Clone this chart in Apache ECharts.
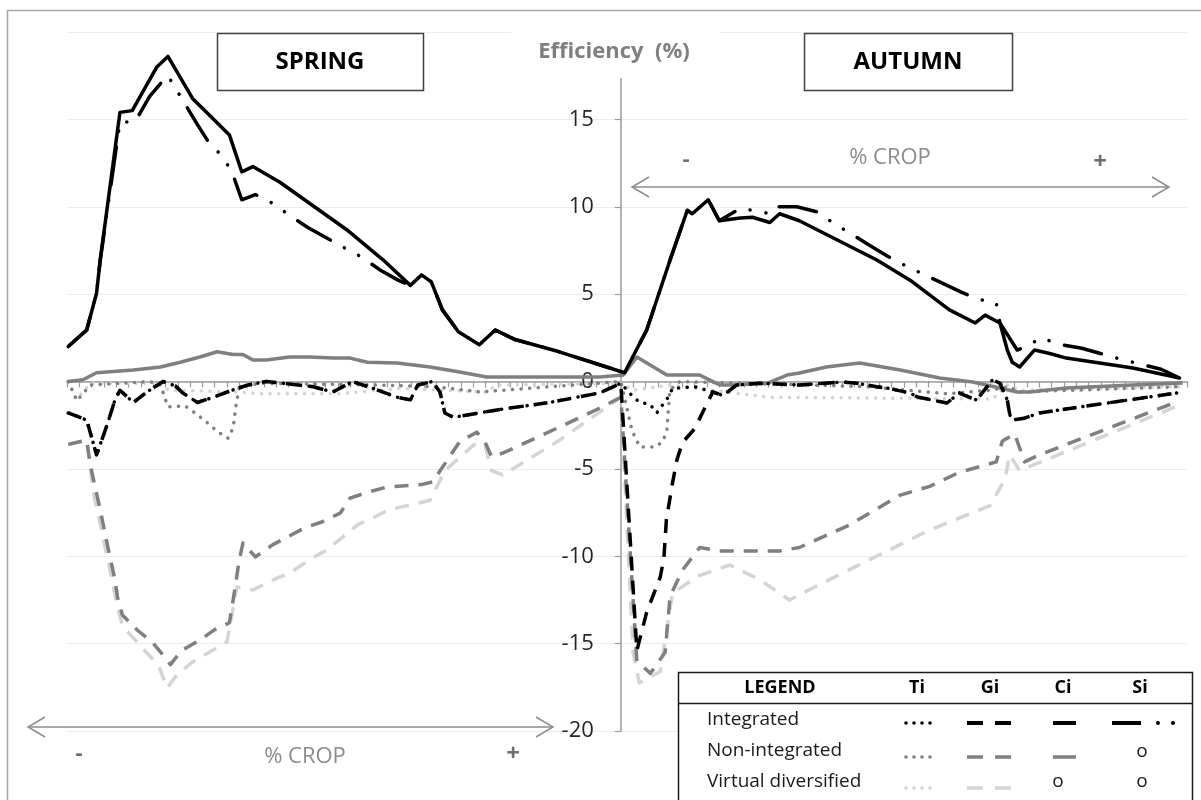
<!DOCTYPE html>
<html><head><meta charset="utf-8">
<script src="https://cdn.jsdelivr.net/npm/echarts@6/dist/echarts.min.js"></script>
<style>html,body{margin:0;padding:0;background:#fff}#c{width:1201px;height:800px}</style>
</head><body><div id="c"></div>
<script>
// x: position along the % CROP scale (negative = SPRING panel, positive = AUTUMN panel)
// y: Efficiency (%)
const yTickValues = [-20, -15, -10, -5, 0, 5, 10, 15];

const ciIntegrated = [[-44.9,2.0],[-43.4,2.95],[-42.6,5.05],[-42.3,6.95],[-40.7,15.4],[-39.7,15.5],[-37.7,18.0],[-36.8,18.6],[-34.8,16.2],[-31.8,14.1],[-30.8,12.0],[-29.9,12.3],[-27.7,11.4],[-25.5,10.3],[-22.3,8.7],[-19.3,6.95],[-17.1,5.5],[-16.2,6.1],[-15.4,5.7],[-14.5,4.1],[-13.2,2.85],[-11.5,2.1],[-10.2,2.95],[-8.6,2.4],[-5.0,1.7],[0.3,0.5],[2.1,2.95],[4.0,6.95],[5.4,9.8],[5.8,9.6],[7.1,10.4],[8.0,9.2],[9.7,9.35],[10.7,9.4],[12.1,9.1],[12.9,9.6],[14.5,9.2],[20.8,6.95],[23.5,5.8],[26.7,4.1],[28.8,3.35],[29.6,3.8],[30.8,3.35],[31.4,1.8],[31.8,1.1],[32.4,0.83],[33.6,1.8],[34.85,1.6],[36.2,1.34],[41.6,0.77],[45.4,0.2]];

const siIntegrated = [[-44.9,2.0],[-43.4,2.95],[-42.6,5.05],[-42.3,6.95],[-40.7,14.85],[-39.6,14.85],[-39.2,15.2],[-38.3,16.3],[-37.1,17.3],[-36.8,17.5],[-36.2,16.8],[-34.4,14.7],[-33.5,13.7],[-32.25,12.8],[-31.5,11.8],[-30.8,10.4],[-29.7,10.7],[-28.3,10.2],[-26.7,9.4],[-25.4,8.8],[-22.6,7.7],[-21.0,7.1],[-19.6,6.4],[-18.1,5.8],[-17.1,5.5],[-16.2,6.1],[-15.4,5.7],[-14.5,4.1],[-13.2,2.85],[-11.5,2.1],[-10.2,2.95],[-8.6,2.4],[-5.0,1.7],[0.3,0.5],[2.1,2.95],[4.0,6.95],[5.4,9.8],[5.8,9.6],[7.1,10.4],[8.0,9.2],[9.7,9.9],[11.5,9.7],[12.1,9.6],[12.7,10.0],[14.3,10.0],[16.0,9.7],[17.2,9.1],[20.2,7.8],[21.6,7.2],[23.2,6.6],[24.7,6.1],[27.7,5.1],[29.1,4.7],[30.5,4.5],[30.8,3.35],[32.2,1.8],[33.0,2.0],[34.1,2.5],[35.8,2.1],[37.45,1.9],[40.5,1.3],[42.2,1.0],[43.9,0.7],[45.4,0.2]];

const giIntegrated = [[-44.9,-1.8],[-43.4,-2.2],[-42.6,-4.2],[-41.75,-2.5],[-41.1,-1.05],[-40.7,-0.5],[-39.6,-1.2],[-38.5,-0.6],[-37.2,0],[-36.2,-0.25],[-35.6,-0.65],[-34.4,-1.2],[-33.1,-0.9],[-31.6,-0.5],[-30.3,-0.2],[-28.8,0],[-27.5,-0.1],[-25.0,-0.3],[-23.4,-0.6],[-21.8,0],[-20.1,-0.4],[-18.2,-0.9],[-17.1,-1.05],[-16.5,-0.2],[-15.3,0],[-14.7,-0.6],[-14.3,-1.8],[-13.6,-2.05],[-9.8,-1.6],[-5.8,-1.2],[-1.7,-0.65],[0,-0.1],[1.3,-15.4],[2.1,-13.2],[3.2,-11.2],[3.5,-10.1],[3.7,-7.9],[4.2,-5.8],[4.55,-4.5],[5.0,-3.5],[6.0,-2.7],[6.66,-1.75],[7.47,-0.6],[8.3,-0.8],[9.4,-0.2],[11.3,-0.1],[14.5,-0.2],[18.0,-0.03],[19.2,-0.1],[20.8,-0.3],[21.6,-0.37],[23.5,-0.66],[24.1,-0.89],[26.5,-1.23],[27.5,-0.66],[28.9,-1.06],[30.2,0.1],[30.8,-0.1],[31.4,-1.06],[31.6,-1.9],[31.8,-2.2],[32.8,-2.1],[34.0,-1.8],[45.2,-0.65]];

const tiIntegrated = [[-44.9,-1.8],[-43.4,-2.2],[-42.6,-4.2],[-41.75,-2.5],[-41.1,-1.05],[-40.7,-0.5],[-39.6,-1.2],[-38.5,-0.6],[-37.2,0],[-36.2,-0.25],[-35.6,-0.65],[-34.4,-1.2],[-33.1,-0.9],[-31.6,-0.5],[-30.3,-0.2],[-28.8,0],[-27.5,-0.1],[-25.0,-0.3],[-23.4,-0.6],[-21.8,0],[-20.1,-0.4],[-18.2,-0.9],[-17.1,-1.05],[-16.5,-0.2],[-15.3,0],[-14.7,-0.6],[-14.3,-1.8],[-13.6,-2.05],[-9.8,-1.6],[-5.8,-1.2],[-1.7,-0.65],[0,-0.1],[0.9,-0.8],[1.54,-1.2],[2.36,-1.3],[2.92,-1.8],[3.8,-0.95],[4.2,-0.4],[6.0,-0.3],[7.47,-0.6],[8.3,-0.8],[9.4,-0.2],[11.3,-0.1],[14.5,-0.2],[18.0,-0.03],[19.2,-0.1],[20.8,-0.3],[21.6,-0.37],[23.5,-0.66],[24.1,-0.89],[26.5,-1.23],[27.5,-0.66],[28.9,-1.06],[30.2,0.1],[30.8,-0.1],[31.4,-1.06],[31.6,-1.9],[31.8,-2.2],[32.8,-2.1],[34.0,-1.8],[45.2,-0.65]];

const ciNonIntegrated = [[-44.9,0],[-43.7,0.1],[-42.6,0.5],[-39.6,0.66],[-37.4,0.83],[-35.8,1.1],[-34.2,1.4],[-32.8,1.7],[-31.5,1.55],[-30.7,1.55],[-29.9,1.23],[-28.8,1.23],[-26.9,1.4],[-25.3,1.4],[-23.4,1.34],[-22.0,1.34],[-20.6,1.1],[-18.2,1.06],[-15.5,0.83],[-13.1,0.54],[-10.9,0.26],[-1.7,0.26],[0.2,0.37],[1.3,1.4],[3.74,0.37],[6.4,0.37],[7.2,0.09],[8.04,-0.2],[9.1,-0.2],[11.9,-0.1],[13.5,0.37],[14.5,0.49],[16.7,0.83],[19.4,1.06],[22.7,0.66],[25.9,0.2],[28.6,-0.03],[30.8,-0.37],[32.2,-0.6],[33.2,-0.6],[36.2,-0.37],[41.6,-0.2],[45.65,-0.09]];

const giNonIntegrated = [[-44.9,-3.6],[-43.4,-3.35],[-43.1,-4.8],[-42.3,-7.35],[-41.75,-9.24],[-41.1,-11.36],[-40.9,-12.33],[-40.5,-13.36],[-39.3,-14.22],[-38.1,-14.9],[-37.2,-15.65],[-36.6,-16.2],[-35.7,-15.4],[-34.2,-14.8],[-33.0,-14.2],[-31.8,-13.8],[-31.5,-12.5],[-31.0,-10.2],[-30.7,-9.24],[-29.7,-10.04],[-28.3,-9.35],[-27.1,-8.9],[-25.7,-8.38],[-24.3,-8.04],[-22.8,-7.53],[-22.0,-6.67],[-20.4,-6.3],[-19.0,-6.04],[-16.2,-5.9],[-15.3,-5.75],[-13.1,-3.45],[-11.7,-2.9],[-11.05,-3.45],[-10.5,-4.3],[-9.6,-4.1],[-4.96,-2.6],[-1.95,-1.6],[0,-0.9],[1.3,-16.0],[2.4,-16.7],[3.6,-15.5],[4.0,-12.3],[5.0,-10.8],[6.4,-9.5],[8.0,-9.7],[12.9,-9.7],[14.5,-9.5],[18.6,-8.2],[22.7,-6.5],[25.1,-6.0],[27.5,-5.2],[30.5,-4.6],[31.0,-3.4],[32.0,-3.0],[32.8,-4.6],[34.0,-4.2],[45.4,-1.1]];

const tiNonIntegrated = [[-44.9,0],[-44.2,-1.1],[-43.1,-0.2],[-38.3,0],[-37.4,-0.2],[-36.8,-1.45],[-35.4,-1.4],[-34.7,-1.75],[-33.95,-2.15],[-32.7,-2.9],[-31.9,-3.25],[-31.5,-2.65],[-31.3,-1.5],[-31.0,-0.35],[-29.3,-0.1],[-20,-0.2],[-15,-0.3],[-11.5,-0.6],[0,0],[0.9,-2.8],[1.54,-3.75],[2.76,-3.75],[3.4,-3.45],[3.74,-2.8],[3.8,-2.2],[3.98,-0.5],[4.8,0],[10,-0.1],[20,-0.3],[26.5,-0.7],[30,-0.5],[31.5,-0.3],[32.4,-0.6],[45.4,-0.3]];

const giVirtual = [[-44.9,-3.6],[-43.4,-3.35],[-42.85,-6.38],[-41.5,-10.8],[-40.9,-12.9],[-40.45,-14.05],[-39.7,-14.6],[-38.5,-15.54],[-37.6,-16.2],[-36.85,-17.54],[-36.1,-16.8],[-34.8,-16.05],[-33.55,-15.54],[-32.0,-14.9],[-31.8,-14.1],[-31.2,-11.76],[-29.9,-11.93],[-27.9,-11.24],[-26.9,-10.96],[-25.3,-10.2],[-23.9,-9.64],[-22.6,-8.9],[-21.4,-8.2],[-20.0,-7.75],[-18.9,-7.35],[-15.5,-6.8],[-14.3,-5.1],[-11.9,-3.6],[-11.05,-3.6],[-10.5,-5.1],[-9.6,-5.35],[-4.96,-3.35],[0,-0.9],[1.0,-15.5],[1.5,-17.25],[3.2,-16.6],[3.8,-13.9],[4.2,-12.1],[6.4,-11.1],[8.85,-10.5],[11.3,-11.35],[13.7,-12.5],[16.2,-11.6],[20.2,-10.2],[25.1,-8.5],[30.0,-7.1],[31.2,-5.6],[31.6,-4.2],[32.4,-5.1],[45.4,-1.35]];

const tiVirtual = [[-44.9,0],[-44.2,-1.0],[-43.1,-0.1],[-37.2,-0.1],[-36.8,-0.5],[-31.0,-0.6],[-29.3,-0.7],[-22.8,-0.7],[-18,-0.4],[-11,-0.6],[-10,-0.2],[0,-0.1],[1.0,-0.5],[4,-0.2],[12,-0.9],[30.2,-1.0],[31.4,-0.2],[32.4,-0.5],[45.4,-0.3]];

const FONT = "'Open Sans', 'Noto Sans', sans-serif";
const BLACK = '#000000', GRAY = '#7f7f7f', LIGHT = '#d4d4d4';
const DOT = [0.1, 8.5], DASH = [14, 10], DASHDOT = [38, 16, 0.1, 16, 0.1, 16];

function mk(name, data, color, type, cap, z) {
  return { name, type: 'line', data, symbol: 'none', showSymbol: false, silent: true,
    lineStyle: { color, width: 3.5, type, cap: cap || 'butt', join: 'round' }, z };
}

const chart = echarts.init(document.getElementById('c'), null, { renderer: 'canvas' });

const T = (text, x, y, size, color, weight, align) => ({ type: 'text', x, y, z: 101,
  style: { text, font: (weight || 'normal') + ' ' + size + 'px ' + FONT, fill: color, textAlign: align || 'center', textVerticalAlign: 'middle' } });
const L = (x1, y1, x2, y2, color, w, dash, cap) => ({ type: 'line', z: 101,
  shape: { x1, y1, x2, y2 }, style: { stroke: color, lineWidth: w, lineDash: dash || null, lineCap: cap || 'butt' } });
const C = (cx, cy, r, color) => ({ type: 'circle', z: 101, shape: { cx, cy, r }, style: { fill: color } });

const legendY = [723, 757, 788];
const elements = [
  { type: 'rect', z: -1, shape: { x: 7.5, y: 10.5, width: 1210, height: 800 }, style: { fill: 'none', stroke: '#a6a6a6', lineWidth: 1.5 } },
  { type: 'rect', z: 100, shape: { x: 511, y: 20, width: 209, height: 58 }, style: { fill: '#ffffff' } },
  T('Efficiency  (%)', 614, 52, 22, '#7f7f7f', 'bold'),
  { type: 'rect', z: 100, shape: { x: 217.5, y: 33.5, width: 206, height: 57 }, style: { fill: '#fff', stroke: '#404040', lineWidth: 1.5 } },
  T('SPRING', 320, 62, 24, '#000', 'bold'),
  { type: 'rect', z: 100, shape: { x: 804.5, y: 33.5, width: 208, height: 57 }, style: { fill: '#fff', stroke: '#404040', lineWidth: 1.5 } },
  T('AUTUMN', 908, 62, 24, '#000', 'bold'),
  // top arrow (autumn)
  L(632, 187, 1169, 187, '#8c8c8c', 1.5),
  { type: 'polyline', z: 101, shape: { points: [[649, 177], [632, 187], [649, 197]] }, style: { stroke: '#8c8c8c', lineWidth: 1.5, fill: 'none' } },
  { type: 'polyline', z: 101, shape: { points: [[1152, 177], [1169, 187], [1152, 197]] }, style: { stroke: '#8c8c8c', lineWidth: 1.5, fill: 'none' } },
  T('-', 686, 160, 22, '#6e6e6e', 'bold'),
  T('% CROP', 890, 158, 22, '#8c8c8c'),
  T('+', 1100, 162, 24, '#6e6e6e', 'bold'),
  // bottom arrow (spring)
  L(28, 727, 553, 727, '#8c8c8c', 1.5),
  { type: 'polyline', z: 101, shape: { points: [[45, 717], [28, 727], [45, 737]] }, style: { stroke: '#8c8c8c', lineWidth: 1.5, fill: 'none' } },
  { type: 'polyline', z: 101, shape: { points: [[536, 717], [553, 727], [536, 737]] }, style: { stroke: '#8c8c8c', lineWidth: 1.5, fill: 'none' } },
  T('-', 79, 754, 22, '#6e6e6e', 'bold'),
  T('% CROP', 305, 757, 22, '#8c8c8c'),
  T('+', 513, 754, 24, '#6e6e6e', 'bold'),
  // legend table
  { type: 'rect', z: 100, shape: { x: 678.5, y: 672.5, width: 514, height: 135 }, style: { fill: '#fff', stroke: '#1a1a1a', lineWidth: 1.5 } },
  L(678, 703.5, 1192, 703.5, '#1a1a1a', 1.5),
  T('LEGEND', 780, 688, 18, '#000', 'bold'),
  T('Ti', 917, 688, 18, '#000', 'bold'),
  T('Gi', 990, 688, 18, '#000', 'bold'),
  T('Ci', 1063, 688, 18, '#000', 'bold'),
  T('Si', 1140, 688, 18, '#000', 'bold'),
  T('Integrated', 707, 720, 19, '#1a1a1a', 'normal', 'left'),
  T('Non-integrated', 707, 751, 19, '#1a1a1a', 'normal', 'left'),
  T('Virtual diversified', 707, 782, 19, '#1a1a1a', 'normal', 'left'),
  T('o', 1142, 752, 19, '#1a1a1a'),
  T('o', 1058, 782, 19, '#1a1a1a'),
  T('o', 1142, 782, 19, '#1a1a1a'),
];
[[BLACK, 0], [GRAY, 1], [LIGHT, 2]].forEach(([col, i]) => {
  const y = legendY[i];
  [906, 914, 922, 930].forEach(cx => elements.push(C(cx, y, 1.8, col)));
  elements.push(L(967, y, 983, y, col, i === 0 ? 4 : 3.5));
  elements.push(L(995, y, 1011, y, col, i === 0 ? 4 : 3.5));
  if (i < 2) elements.push(L(1053, y, 1076, y, col, i === 0 ? 4 : 3.5));
});
elements.push(L(1112, legendY[0], 1141, legendY[0], BLACK, 4));
elements.push(C(1158, legendY[0], 2, BLACK));
elements.push(C(1173, legendY[0], 2, BLACK));

const GRID_LEFT = 67, GRID_RIGHT = 14, X_MIN = -45, X_MAX = 46;
const zeroOffset = -((0 - X_MIN) / (X_MAX - X_MIN)) * (1201 - GRID_LEFT - GRID_RIGHT);

chart.setOption({
  animation: false,
  backgroundColor: '#ffffff',
  grid: { left: GRID_LEFT, right: GRID_RIGHT, top: 32, bottom: 69, containLabel: false },
  xAxis: {
    type: 'value', min: X_MIN, max: X_MAX, interval: 1,
    axisLine: { onZero: true, lineStyle: { color: '#9a9a9a', width: 1.5 } },
    axisTick: { show: true, length: 6, lineStyle: { color: '#9a9a9a', width: 1.2 } },
    axisLabel: { show: false }, splitLine: { show: false }
  },
  yAxis: {
    type: 'value', min: -20, max: 20, interval: 5, position: 'left', offset: zeroOffset,
    axisLine: { show: true, onZero: false, lineStyle: { color: '#9a9a9a', width: 1.5 } },
    axisTick: { show: true, length: 6, lineStyle: { color: '#9a9a9a', width: 1.2 } },
    axisLabel: { margin: 27, fontSize: 22, color: '#262626', fontFamily: FONT,
      formatter: v => (yTickValues.indexOf(v) >= 0 ? String(v) : '') },
    splitLine: { show: true, lineStyle: { color: '#ededed', width: 1 } }
  },
  series: [
    mk('Ti virtual diversified', tiVirtual, LIGHT, DOT, 'round', 2),
    mk('Gi virtual diversified', giVirtual, LIGHT, DASH, 'butt', 2),
    mk('Ti non-integrated', tiNonIntegrated, GRAY, DOT, 'round', 3),
    mk('Gi non-integrated', giNonIntegrated, GRAY, DASH, 'butt', 3),
    mk('Ci non-integrated', ciNonIntegrated, GRAY, 'solid', 'butt', 3),
    mk('Ti integrated', tiIntegrated, BLACK, DOT, 'round', 4),
    mk('Gi integrated', giIntegrated, BLACK, DASH, 'butt', 4),
    mk('Si integrated', siIntegrated, BLACK, DASHDOT, 'round', 4),
    mk('Ci integrated', ciIntegrated, BLACK, 'solid', 'butt', 4)
  ],
  graphic: { elements }
});
</script>
</body></html>
